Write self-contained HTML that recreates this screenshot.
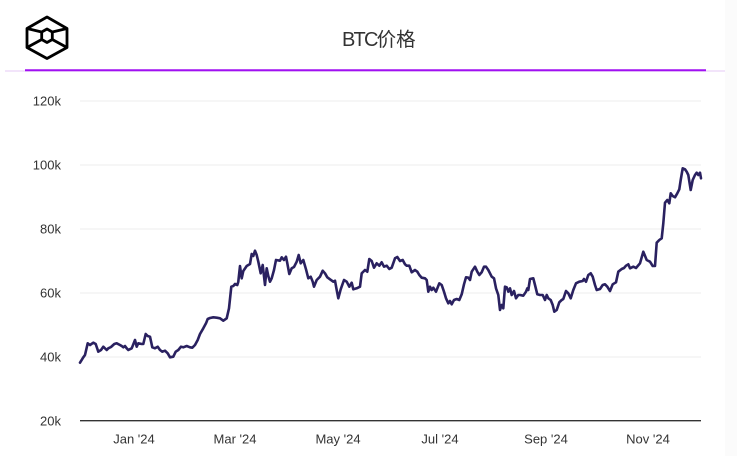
<!DOCTYPE html>
<html>
<head>
<meta charset="utf-8">
<style>
  html,body{margin:0;padding:0;background:#fff;}
  body{width:737px;height:456px;overflow:hidden;position:relative;}
  svg{position:absolute;left:0;top:0;}
  .t{font-family:"Liberation Sans","Noto Sans CJK SC",sans-serif;}
</style>
</head>
<body>
<svg width="737" height="456" viewBox="0 0 737 456" xmlns="http://www.w3.org/2000/svg">
  <rect x="0" y="0" width="737" height="456" fill="#ffffff"/>
  <rect x="725" y="0" width="12" height="456" fill="#fbfbfb"/>

  <!-- logo -->
  <g fill="none" stroke="#000" stroke-width="2.8" stroke-linejoin="round">
    <polygon points="47,17 67,28.5 67,47.5 47,58.5 27,47.5 27,28.5"/>
    <polygon points="47,29 52.3,32 52.3,39.5 47,42.5 41.7,39.5 41.7,32"/>
    <line x1="27" y1="28.5" x2="41.7" y2="32"/>
    <line x1="67" y1="28.5" x2="52.3" y2="32"/>
    <line x1="27" y1="47.5" x2="41.7" y2="39.5"/>
    <line x1="67" y1="47.5" x2="52.3" y2="39.5"/>
  </g>

  <!-- title -->
  <text class="t" x="342" y="46" font-size="20" fill="#333"><tspan letter-spacing="-1.8">BTC</tspan><tspan font-size="19.5">价格</tspan></text>

  <!-- header lines -->
  <line x1="5" y1="71" x2="725" y2="71" stroke="#ead4f7" stroke-width="1.2"/>
  <line x1="25" y1="70.3" x2="706" y2="70.3" stroke="#a010f2" stroke-width="2"/>

  <!-- gridlines -->
  <g stroke="#ececec" stroke-width="1">
    <line x1="80" y1="101" x2="701" y2="101"/>
    <line x1="80" y1="165" x2="701" y2="165"/>
    <line x1="80" y1="229" x2="701" y2="229"/>
    <line x1="80" y1="293" x2="701" y2="293"/>
    <line x1="80" y1="357" x2="701" y2="357"/>
  </g>
  <line x1="80" y1="420.7" x2="701" y2="420.7" stroke="#333" stroke-width="1.3"/>

  <!-- y labels -->
  <g class="t" font-size="13" fill="#333" text-anchor="end">
    <text x="61" y="105.5">120k</text>
    <text x="61" y="169.5">100k</text>
    <text x="61" y="233.5">80k</text>
    <text x="61" y="297.5">60k</text>
    <text x="61" y="361.5">40k</text>
    <text x="61" y="425.5">20k</text>
  </g>

  <!-- x labels -->
  <g class="t" font-size="13" fill="#333" text-anchor="middle">
    <text x="134" y="443.5">Jan '24</text>
    <text x="235" y="443.5">Mar '24</text>
    <text x="338" y="443.5">May '24</text>
    <text x="440" y="443.5">Jul '24</text>
    <text x="546" y="443.5">Sep '24</text>
    <text x="648" y="443.5">Nov '24</text>
  </g>

  <!-- series -->
  <polyline fill="none" stroke="#2a2160" stroke-width="2.6" stroke-linejoin="round" stroke-linecap="round" points="
80,362.7 83.3,357.3 85,355 87.7,343.3 90,345 93.3,342.7 95.7,344 98.3,351.7 101,350 103.3,346.7 106.7,350 108.3,348.3 111,347 114.3,344 116.7,343.3 120,345 121.7,346 123.3,347.3 125,346 126.7,348.3 128.3,350 131.7,348.3 135,340 136.7,346.7 138.3,343.3 141.7,344 143.3,344 145.7,334 147.7,336 150,336.7 152.3,347.3 155,348.3 157.7,346.7 160,350 162.3,351.7 165,350.7 167.7,353.3 170,357.3 173.3,356.7 175.7,351.7 178.3,350 181,346.7 183.3,347.3 186.7,346 190,347.3 192.3,347.7 195,345 197.7,340 200,334 203.3,328.3 206,323.3 207.7,319 210,318 213.3,317.3 216.7,317.7 220,318.3 223.3,320.7 226.7,318.3 229,308.3 231.3,286.7 233.3,286 235,284 237.3,285 238.3,281.7 240,266 241.7,278.3 243.3,271 246.7,266 250,264 251.7,254 253.3,256 255,250.7 256.7,255 258.3,261.7 260.7,273.3 262.7,265 265,285 266.7,268.3 268.3,276 270,281.7 271.7,278.3 274,270 276,260 280,260.7 281.7,257.3 284,260 286,256.7 287.3,263.3 289.3,274 291.7,268.3 294,267 296.7,261.7 298.7,255 300.7,263.3 303.3,260 306,269.3 308.3,278.3 310.7,276.7 312.7,281.7 314,286.7 316.7,280 320,276.7 322.7,270.7 325,273.3 327.3,277.3 330,279.3 333.3,281.7 335,280.7 336.7,290 338.3,298.3 340.7,289.3 344,280 346.7,281.7 349.3,286.7 351.7,282.7 353.3,289.3 356.7,288.3 360,286.7 361.7,273.3 365,270 367.3,271.7 369.3,259 371.7,261 374,267.7 376.7,263.3 379.3,265.7 381.7,262.3 384,266.7 386.7,265.7 389.3,269 391.7,267.7 395,258.3 397.3,257 400,261 402.7,260 405,264.3 406.7,265.7 409.3,265.7 411.7,272.3 415,270 417.3,271.7 419.3,275 421.7,277.7 425,278.3 426.7,280 428.3,291.7 430,286.7 431.7,290 433.3,287.7 436,291.7 439.3,283.3 441.7,285 444,291.7 446,298.3 448.3,303.3 450,301 451.7,304.3 454,300 456.7,299 459.3,300 461.7,294.3 464,284.3 466,277.3 468.3,277.7 470,280 471.7,271.7 475,266.7 477.3,271.7 479.3,275 481.7,272.3 484,266.7 486,266.7 488.3,270 491.7,276.7 494,278.3 496,288.3 498.3,295 500,310 501.7,305 503.3,308.3 505,286.7 506.7,287.3 508.3,291.7 510,288.3 511.7,295 514,291 516,298.3 518.3,295 520,295 523.3,295.7 526,291.7 527.3,288.3 528.3,290 530,279 533.3,278.3 535,285 537.3,294.3 540,295 542.7,295 545,300 546.7,295 548.3,298.3 550.7,300 552.7,305 554.3,311.7 556.7,310 559.3,302.3 561.7,300 563.3,299 566,291 568.3,293.3 570.7,298.3 573.3,290 576,283.3 579.3,281.7 582.7,281 584,279 586,281.7 588.3,275 590.7,273.3 592.7,276.7 595,285 596.7,290 600,289 602.7,285 605,284.3 607.3,286.7 610,291 612.7,284.3 616,282.3 618.3,271.7 621.7,269 624,268 626,265.7 628.3,264.3 630,268.3 633.3,266.7 636,268 640,263.3 643.3,251.7 646.7,260 650,261.7 652.7,266 655,266 656.7,242.7 659.3,240 661.7,238.3 663.3,223.3 665,202.7 667.3,200 669.3,203.3 670.7,193.3 672.7,196 675,197.3 677.3,193.3 679.3,189.3 680.7,180 682.7,168.3 685,169.3 686.7,171.7 688.3,175 690.7,190 692.7,180 695,175 696.7,172.7 698.3,175 700,172.7 701,178.3"/>
</svg>
</body>
</html>
